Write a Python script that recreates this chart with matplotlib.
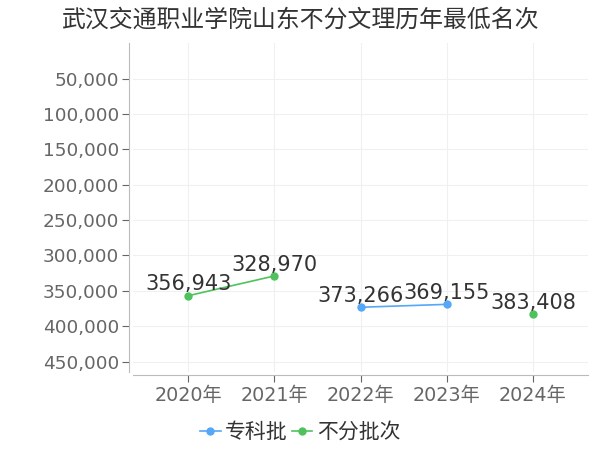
import matplotlib
matplotlib.use("Agg")
import matplotlib.pyplot as plt
from matplotlib.ticker import FuncFormatter

plt.rcParams['font.family'] = ['DejaVu Sans', 'Noto Sans CJK SC']

# data
years = ["2020年", "2021年", "2022年", "2023年", "2024年"]
zhuanke_idx = [2, 3]
zhuanke_rank = [373266, 369155]
bufen_idx = [0, 1, 4]
bufen_rank = [356943, 328970, 383408]
yticks = [50000, 100000, 150000, 200000, 250000, 300000, 350000, 400000, 450000]

blue = '#55a7f7'
green = '#4fc25d'

fig = plt.figure(figsize=(6, 4.5), dpi=100)
ax = fig.add_axes([0.222, 0.173, 0.758, 0.731])

# green 2020-2021 segment, then lone 2024 point
ax.plot(bufen_idx[:2], bufen_rank[:2], color=green, lw=1.2, marker='o', ms=5, zorder=3)
ax.plot(bufen_idx[2:], bufen_rank[2:], color=green, lw=1.2, marker='o', ms=5, zorder=3)
ax.plot(zhuanke_idx, zhuanke_rank, color=blue, lw=1.2, marker='o', ms=5, zorder=3)

for xs, ys in ((bufen_idx, bufen_rank), (zhuanke_idx, zhuanke_rank)):
    for x, y in zip(xs, ys):
        ax.annotate(f"{y:,}", (x, y), xytext=(0, 1), textcoords='offset points',
                    ha='center', va='bottom', fontsize=15, color='#333333', zorder=4)

ax.set_xlim(-0.64, 4.64)
ax.set_ylim(465000, 0)
ax.set_xticks(range(len(years)))
ax.set_xticklabels(years)
ax.set_yticks(yticks)
ax.yaxis.set_major_formatter(FuncFormatter(lambda v, p: f"{int(v):,}"))
ax.tick_params(axis='both', labelsize=13.8, colors='#666666', length=5, width=0.8)
ax.tick_params(axis='y', labelsize=13.3, pad=2)
ax.tick_params(axis='x', pad=3)
for lab in ax.get_xticklabels() + ax.get_yticklabels():
    lab.set_color('#666666')

ax.grid(True, color='#f0f0f0', lw=0.8)
ax.set_axisbelow(True)
for s in ('top', 'right'):
    ax.spines[s].set_visible(False)
for s in ('left', 'bottom'):
    ax.spines[s].set_color('#bbbbbb')
ax.spines['left'].set_position(('outward', 3))
ax.spines['bottom'].set_position(('outward', 2))

fig.text(0.5, 0.957, "武汉交通职业学院山东不分文理历年最低名次", ha='center', va='center',
         fontsize=17.2, color='#333333')

h1, = ax.plot([], [], color=blue, lw=1.2, marker='o', ms=5)
h2, = ax.plot([], [], color=green, lw=1.2, marker='o', ms=5)
fig.legend([h1, h2], ["专科批", "不分批次"], loc='center', bbox_to_anchor=(0.5, 0.04),
           ncol=2, frameon=False, fontsize=15, handlelength=1.0, handletextpad=0.2,
           columnspacing=0.2, labelcolor='#333333')

fig.savefig("out.png", dpi=100)
